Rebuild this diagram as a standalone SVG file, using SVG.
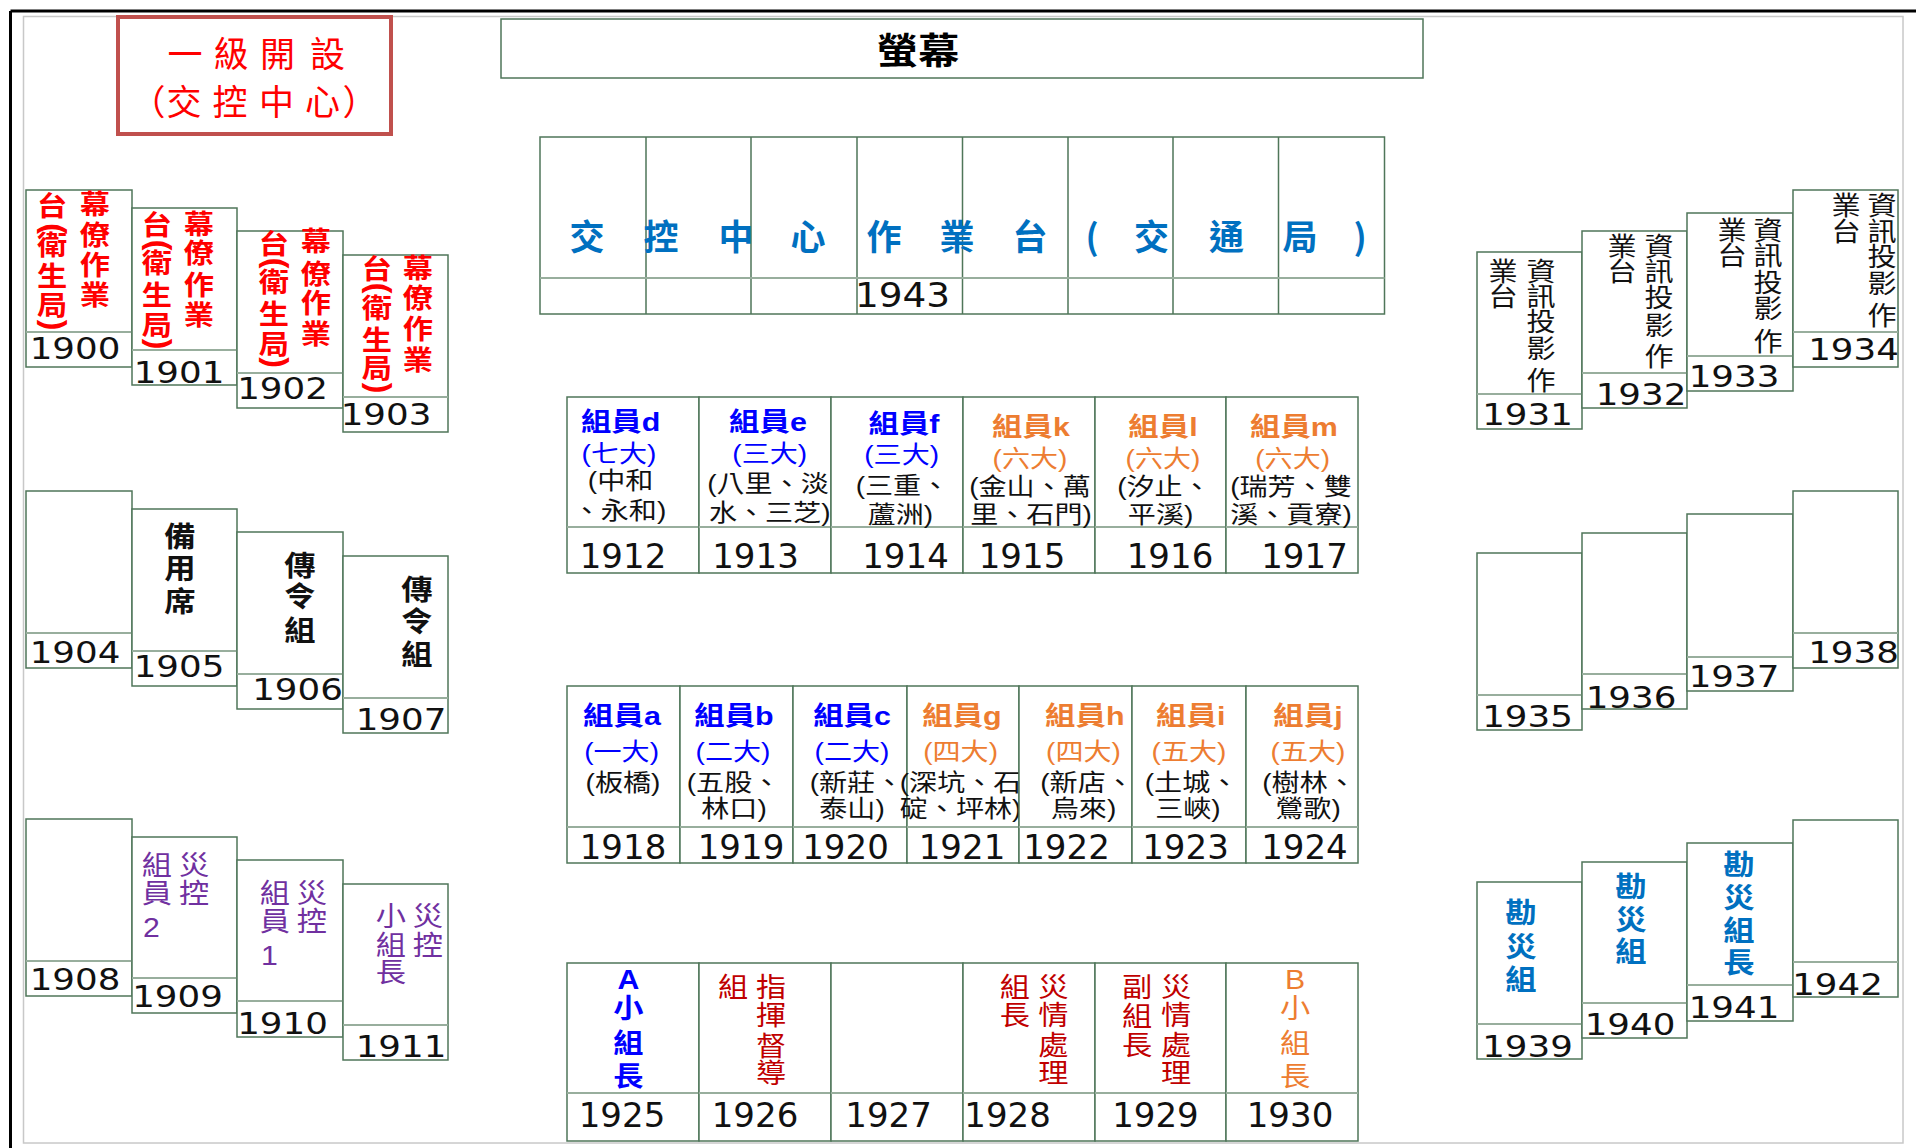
<svg xmlns="http://www.w3.org/2000/svg" width="1926" height="1148" viewBox="0 0 1926 1148">
<style>
.bx{fill:#fff;stroke:#4F7659;stroke-width:1.5}
.dv{stroke:#98AE9D;stroke-width:2;fill:none}
.gl{stroke:#4F7659;stroke-width:1.5;fill:none}
.sn{font-family:"DejaVu Sans",sans-serif;font-size:31px;fill:#111;text-anchor:middle;transform-box:fill-box;transform-origin:center;transform:scaleX(1.15)}
.tn{font-family:"DejaVu Sans",sans-serif;font-size:34px;fill:#111;text-anchor:middle}
.t{font-family:"Liberation Sans","Noto Sans CJK TC",sans-serif;text-anchor:middle;font-size:24px;transform-box:fill-box;transform-origin:center;transform:scaleX(1.17)}
.h{font-size:26px;font-weight:bold}
.v{font-family:"Liberation Sans","Noto Sans CJK TC",sans-serif;text-anchor:middle;font-size:27px;transform-box:fill-box;transform-origin:center;transform:scaleX(1.12)}
.v28{font-size:28px}
.v26{font-size:26px}
.p{font-family:"Liberation Sans",sans-serif;text-anchor:middle;font-size:32px}
.b{font-weight:bold}
.red{fill:#FF0000}.blu{fill:#0000FF}.org{fill:#ED7D31}.blk{fill:#111}.pur{fill:#7030A0}.dr{fill:#C00000}.sb{fill:#0070C0}
.hd{font-family:"Noto Sans CJK TC",sans-serif;text-anchor:middle}
</style>
<rect width="1926" height="1148" fill="#fff"/>
<g id="frame">
<rect x="23.5" y="16.5" width="1879.5" height="1126.5" fill="none" stroke="#C8C8C8" stroke-width="1.5"/>
<line x1="10.5" y1="11" x2="1916" y2="11" stroke="#000" stroke-width="3"/>
<line x1="10.5" y1="11" x2="10.5" y2="1148" stroke="#000" stroke-width="3"/>
</g>
<g id="title">
<rect x="118" y="17" width="273" height="117" fill="#fff" stroke="#C0504D" stroke-width="4"/>
<text class="hd red" font-size="35" x="185 231 277.5 327.5" y="67 67 67 67">一級開設</text>
<text class="hd red" font-size="35" x="148 184 230 276.5 322.5 360" y="115 115 115 115 115 115">（交控中心）</text>
</g>
<g id="screen">
<rect class="bx" x="501" y="19" width="922" height="59"/>
<text class="hd b" font-size="36" x="918" y="64" style="transform-box:fill-box;transform-origin:center;transform:scaleX(1.15)">螢幕</text>
</g>
<g id="n1943">
<rect class="bx" x="540" y="137" width="844.5" height="177"/>
<path class="gl" d="M646 137V314M751 137V314M857 137V314M962.5 137V314M1068 137V314M1173 137V314M1278.5 137V314"/>
<line class="dv" x1="540" y1="278" x2="1384.5" y2="278"/>
<text class="hd b sb" font-size="35" x="587 661 736 808 884 957 1030 1092 1151.5 1226.5 1300 1360" y="250 250 250 250 250 250 250 250 250 250 250 250">交控中心作業台(交通局)</text>
<text class="tn" font-size="33" x="902.5" y="307" style="transform-box:fill-box;transform-origin:center;transform:scaleX(1.1)">1943</text>
</g>
<g id="n1900">
<rect class="bx" x="26" y="190" width="106" height="177"/><line class="dv" x1="26" y1="332" x2="132" y2="332"/>
<text class="v b red" x="95 95 95 95" y="214.5 245.5 275 305.5">幕僚作業</text>
<text class="v b red" x="52" y="216.5">台</text>
<text class="p b red" x="52" y="236.8" transform="rotate(90 52 228.5)">(</text>
<text class="v b red" x="52 52 52" y="255 286 315.5">衛生局</text>
<text class="p b red" x="52" y="333.3" transform="rotate(90 52 325)">)</text>
<text class="sn" x="75" y="359">1900</text>
</g>
<g id="n1901">
<rect class="bx" x="132" y="208" width="105" height="177"/><line class="dv" x1="132" y1="350" x2="237" y2="350"/>
<text class="v b red" x="199 199 199 199" y="234.5 263.5 295 325.5">幕僚作業</text>
<text class="v b red" x="157" y="235">台</text>
<text class="p b red" x="157" y="253.3" transform="rotate(90 157 245)">(</text>
<text class="v b red" x="157 157 157" y="273.5 305.5 335.5">衛生局</text>
<text class="p b red" x="157" y="352.3" transform="rotate(90 157 344)">)</text>
<text class="sn" x="179" y="383">1901</text>
</g>
<g id="n1902">
<rect class="bx" x="237" y="231" width="106" height="177"/><line class="dv" x1="237" y1="373" x2="343" y2="373"/>
<text class="v b red" x="316 316 316 316" y="251.5 284.5 313.5 344.5">幕僚作業</text>
<text class="v b red" x="274" y="254">台</text>
<text class="p b red" x="274" y="271.3" transform="rotate(90 274 263)">(</text>
<text class="v b red" x="274 274 274" y="292.5 324.5 354.5">衛生局</text>
<text class="p b red" x="274" y="370.8" transform="rotate(90 274 362.5)">)</text>
<text class="sn" x="282.5" y="399">1902</text>
</g>
<g id="n1903">
<rect class="bx" x="343" y="255" width="105" height="177"/><line class="dv" x1="343" y1="397" x2="448" y2="397"/>
<text class="v b red" x="418 418 418 418" y="278.5 308.5 339.5 370">幕僚作業</text>
<text class="v b red" x="377" y="279">台</text>
<text class="p b red" x="377" y="296.3" transform="rotate(90 377 288)">(</text>
<text class="v b red" x="377 377 377" y="318.5 350 378.5">衛生局</text>
<text class="p b red" x="377" y="396.3" transform="rotate(90 377 388)">)</text>
<text class="sn" x="386" y="425">1903</text>
</g>
<g id="n1904">
<rect class="bx" x="26" y="491" width="106" height="177"/><line class="dv" x1="26" y1="633" x2="132" y2="633"/>
<text class="sn" x="75" y="663">1904</text>
</g>
<g id="n1905">
<rect class="bx" x="132" y="509" width="105" height="177"/><line class="dv" x1="132" y1="651" x2="237" y2="651"/>
<text class="v v28 b blk" x="180 180 180" y="547 579.5 612.5">備用席</text>
<text class="sn" x="179" y="677">1905</text>
</g>
<g id="n1906">
<rect class="bx" x="237" y="532" width="106" height="177"/><line class="dv" x1="237" y1="674" x2="343" y2="674"/>
<text class="v v28 b blk" x="300 300 300" y="576 607.5 641">傳令組</text>
<text class="sn" x="297.5" y="700">1906</text>
</g>
<g id="n1907">
<rect class="bx" x="343" y="556" width="105" height="177"/><line class="dv" x1="343" y1="698" x2="448" y2="698"/>
<text class="v v28 b blk" x="417 417 417" y="600 632 665">傳令組</text>
<text class="sn" x="401" y="730">1907</text>
</g>
<g id="n1908">
<rect class="bx" x="26" y="819" width="106" height="177"/><line class="dv" x1="26" y1="961" x2="132" y2="961"/>
<text class="sn" x="75" y="990">1908</text>
</g>
<g id="n1909">
<rect class="bx" x="132" y="837" width="105" height="176"/><line class="dv" x1="132" y1="978" x2="237" y2="978"/>
<text class="v pur" x="194 194" y="875 903.5">災控</text>
<text class="v pur" x="157 157 152" y="875.5 903.5 936.7">組員2</text>
<text class="sn" x="177.5" y="1007">1909</text>
</g>
<g id="n1910">
<rect class="bx" x="237" y="860" width="106" height="177"/><line class="dv" x1="237" y1="1001" x2="343" y2="1001"/>
<text class="v pur" x="312 312" y="903.5 931.5">災控</text>
<text class="v pur" x="275 275 270" y="903.5 931.5 964.7">組員1</text>
<text class="sn" x="282.5" y="1034">1910</text>
</g>
<g id="n1911">
<rect class="bx" x="343" y="884" width="105" height="176"/><line class="dv" x1="343" y1="1025" x2="448" y2="1025"/>
<text class="v pur" x="428 428" y="926.5 955">災控</text>
<text class="v pur" x="391 391 391" y="926.5 955 982.5">小組長</text>
<text class="sn" x="401" y="1057">1911</text>
</g>
<g id="n1912">
<rect class="bx" x="567" y="397" width="132" height="176"/><line class="dv" x1="567" y1="527" x2="699" y2="527"/>
<text class="t h blu" x="620.6" y="431">組員d</text>
<text class="t blu" x="619" y="462">(七大)</text>
<text class="t blk" x="620.6" y="489">(中和</text>
<text class="t blk" x="619.5" y="519">、永和)</text>
<text class="tn" x="623" y="568">1912</text>
</g>
<g id="n1913">
<rect class="bx" x="699" y="397" width="132" height="176"/><line class="dv" x1="699" y1="527" x2="831" y2="527"/>
<text class="t h blu" x="768" y="431">組員e</text>
<text class="t blu" x="769.7" y="462">(三大)</text>
<text class="t blk" x="768" y="492">(八里、淡</text>
<text class="t blk" x="769.7" y="521">水、三芝)</text>
<text class="tn" x="755.5" y="568">1913</text>
</g>
<g id="n1914">
<rect class="bx" x="831" y="397" width="132" height="176"/><line class="dv" x1="831" y1="527" x2="963" y2="527"/>
<text class="t h blu" x="904" y="433.5">組員f</text>
<text class="t blu" x="901.7" y="463.5">(三大)</text>
<text class="t blk" x="902.5" y="494">(三重、</text>
<text class="t blk" x="900.4" y="523">蘆洲)</text>
<text class="tn" x="905.5" y="568">1914</text>
</g>
<g id="n1915">
<rect class="bx" x="963" y="397" width="132" height="176"/><line class="dv" x1="963" y1="527" x2="1095" y2="527"/>
<text class="t h org" x="1031" y="436">組員k</text>
<text class="t org" x="1030" y="467">(六大)</text>
<text class="t blk" x="1030" y="495">(金山、萬</text>
<text class="t blk" x="1031" y="523.5">里、石門)</text>
<text class="tn" x="1022" y="568">1915</text>
</g>
<g id="n1916">
<rect class="bx" x="1095" y="397" width="131" height="176"/><line class="dv" x1="1095" y1="527" x2="1226" y2="527"/>
<text class="t h org" x="1163" y="436">組員l</text>
<text class="t org" x="1163" y="467">(六大)</text>
<text class="t blk" x="1164" y="495">(汐止、</text>
<text class="t blk" x="1160.6" y="523.5">平溪)</text>
<text class="tn" x="1170" y="568">1916</text>
</g>
<g id="n1917">
<rect class="bx" x="1226" y="397" width="132" height="176"/><line class="dv" x1="1226" y1="527" x2="1358" y2="527"/>
<text class="t h org" x="1294" y="436">組員m</text>
<text class="t org" x="1292.7" y="467">(六大)</text>
<text class="t blk" x="1291" y="495">(瑞芳、雙</text>
<text class="t blk" x="1291" y="523.5">溪、貢寮)</text>
<text class="tn" x="1304.5" y="568">1917</text>
</g>
<g id="n1918">
<rect class="bx" x="567" y="686" width="113" height="177"/><line class="dv" x1="567" y1="827" x2="680" y2="827"/>
<text class="t h blu" x="622" y="725.5">組員a</text>
<text class="t blu" x="621.6" y="760">(一大)</text>
<text class="t blk" x="623" y="791.5">(板橋)</text>
<text class="tn" x="623" y="859">1918</text>
</g>
<g id="n1919">
<rect class="bx" x="680" y="686" width="113" height="177"/><line class="dv" x1="680" y1="827" x2="793" y2="827"/>
<text class="t h blu" x="734" y="725.5">組員b</text>
<text class="t blu" x="733" y="760">(二大)</text>
<text class="t blk" x="733.5" y="791.5">(五股、</text>
<text class="t blk" x="734" y="817">林口)</text>
<text class="tn" x="741" y="859">1919</text>
</g>
<g id="n1920">
<rect class="bx" x="793" y="686" width="114" height="177"/><line class="dv" x1="793" y1="827" x2="907" y2="827"/>
<text class="t h blu" x="852" y="725.5">組員c</text>
<text class="t blu" x="852" y="760">(二大)</text>
<text class="t blk" x="856.5" y="791.5">(新莊、</text>
<text class="t blk" x="852" y="817">泰山)</text>
<text class="tn" x="845.5" y="859">1920</text>
</g>
<g id="n1921">
<rect class="bx" x="907" y="686" width="112" height="177"/><line class="dv" x1="907" y1="827" x2="1019" y2="827"/>
<text class="t h org" x="962" y="725.5">組員g</text>
<text class="t org" x="960.6" y="760">(四大)</text>
<text class="t blk" x="960.6" y="791.5">(深坑、石</text>
<text class="t blk" x="960.6" y="817">碇、坪林)</text>
<text class="tn" x="962" y="859">1921</text>
</g>
<g id="n1922">
<rect class="bx" x="1019" y="686" width="113" height="177"/><line class="dv" x1="1019" y1="827" x2="1132" y2="827"/>
<text class="t h org" x="1084.8" y="725.5">組員h</text>
<text class="t org" x="1083.5" y="760">(四大)</text>
<text class="t blk" x="1087" y="791.5">(新店、</text>
<text class="t blk" x="1083.5" y="817">烏來)</text>
<text class="tn" x="1066.5" y="859">1922</text>
</g>
<g id="n1923">
<rect class="bx" x="1132" y="686" width="114" height="177"/><line class="dv" x1="1132" y1="827" x2="1246" y2="827"/>
<text class="t h org" x="1190.7" y="725.5">組員i</text>
<text class="t org" x="1189" y="760">(五大)</text>
<text class="t blk" x="1191.5" y="791.5">(土城、</text>
<text class="t blk" x="1188" y="817">三峽)</text>
<text class="tn" x="1185.5" y="859">1923</text>
</g>
<g id="n1924">
<rect class="bx" x="1246" y="686" width="112" height="177"/><line class="dv" x1="1246" y1="827" x2="1358" y2="827"/>
<text class="t h org" x="1308" y="725.5">組員j</text>
<text class="t org" x="1308" y="760">(五大)</text>
<text class="t blk" x="1309" y="791.5">(樹林、</text>
<text class="t blk" x="1308" y="817">鶯歌)</text>
<text class="tn" x="1304.4" y="859">1924</text>
</g>
<g id="n1925">
<rect class="bx" x="567" y="963" width="132" height="178"/><line class="dv" x1="567" y1="1093" x2="699" y2="1093"/>
<text class="v b blu" x="628.5 628.5 628.5 628.5" y="988.7 1018.5 1053.5 1086.5">A小組長</text>
<text class="tn" x="622" y="1127">1925</text>
</g>
<g id="n1926">
<rect class="bx" x="699" y="963" width="132" height="178"/><line class="dv" x1="699" y1="1093" x2="831" y2="1093"/>
<text class="v dr" x="771 771 771 771" y="997.5 1025 1056 1083.5">指揮督導</text>
<text class="v dr" x="733" y="997.5">組</text>
<text class="tn" x="755" y="1127">1926</text>
</g>
<g id="n1927">
<rect class="bx" x="831" y="963" width="132" height="178"/><line class="dv" x1="831" y1="1093" x2="963" y2="1093"/>
<text class="tn" x="888.6" y="1127">1927</text>
</g>
<g id="n1928">
<rect class="bx" x="963" y="963" width="132" height="178"/><line class="dv" x1="963" y1="1093" x2="1095" y2="1093"/>
<text class="v dr" x="1053.5 1053.5 1053.5 1053.5" y="997.5 1025.5 1055 1083.5">災情處理</text>
<text class="v dr" x="1015 1015" y="997.5 1025.5">組長</text>
<text class="tn" x="1007.6" y="1127">1928</text>
</g>
<g id="n1929">
<rect class="bx" x="1095" y="963" width="131" height="178"/><line class="dv" x1="1095" y1="1093" x2="1226" y2="1093"/>
<text class="v dr" x="1176 1176 1176 1176" y="997.5 1025.5 1055 1083.5">災情處理</text>
<text class="v dr" x="1137 1137 1137" y="997.5 1026.5 1055">副組長</text>
<text class="tn" x="1155.4" y="1127">1929</text>
</g>
<g id="n1930">
<rect class="bx" x="1226" y="963" width="132" height="178"/><line class="dv" x1="1226" y1="1093" x2="1358" y2="1093"/>
<text class="v org" x="1295 1295 1295 1295" y="988.7 1018.5 1053.5 1086.5">B小組長</text>
<text class="tn" x="1290" y="1127">1930</text>
</g>
<g id="n1931">
<rect class="bx" x="1477" y="252" width="105" height="177"/><line class="dv" x1="1477" y1="394" x2="1582" y2="394"/>
<text class="v v26 blk" x="1541 1541 1541 1541 1541" y="281 306.5 331 358.5 390">資訊投影作</text>
<text class="v v26 blk" x="1503 1503" y="281 306.5">業台</text>
<text class="sn" x="1527.5" y="425">1931</text>
</g>
<g id="n1932">
<rect class="bx" x="1582" y="231" width="105" height="177"/><line class="dv" x1="1582" y1="373" x2="1687" y2="373"/>
<text class="v v26 blk" x="1659 1659 1659 1659 1659" y="256.5 281.5 307.5 335 366.5">資訊投影作</text>
<text class="v v26 blk" x="1622 1622" y="256.5 281.5">業台</text>
<text class="sn" x="1641" y="405">1932</text>
</g>
<g id="n1933">
<rect class="bx" x="1687" y="213" width="106" height="178"/><line class="dv" x1="1687" y1="356" x2="1793" y2="356"/>
<text class="v v26 blk" x="1768 1768 1768 1768 1768" y="240 265.5 292.5 318.5 351.5">資訊投影作</text>
<text class="v v26 blk" x="1732 1732" y="240 265.5">業台</text>
<text class="sn" x="1734" y="387">1933</text>
</g>
<g id="n1934">
<rect class="bx" x="1793" y="190" width="105" height="177"/><line class="dv" x1="1793" y1="332" x2="1898" y2="332"/>
<text class="v v26 blk" x="1882 1882 1882 1882 1882" y="215 241.5 266.5 293.5 325">資訊投影作</text>
<text class="v v26 blk" x="1846 1846" y="215 241.5">業台</text>
<text class="sn" x="1853.5" y="360">1934</text>
</g>
<g id="n1935">
<rect class="bx" x="1477" y="553" width="105" height="177"/><line class="dv" x1="1477" y1="695" x2="1582" y2="695"/>
<text class="sn" x="1527.5" y="727">1935</text>
</g>
<g id="n1936">
<rect class="bx" x="1582" y="533" width="105" height="176"/><line class="dv" x1="1582" y1="674" x2="1687" y2="674"/>
<text class="sn" x="1631" y="708">1936</text>
</g>
<g id="n1937">
<rect class="bx" x="1687" y="514" width="106" height="177"/><line class="dv" x1="1687" y1="657" x2="1793" y2="657"/>
<text class="sn" x="1734" y="687">1937</text>
</g>
<g id="n1938">
<rect class="bx" x="1793" y="491" width="105" height="177"/><line class="dv" x1="1793" y1="633" x2="1898" y2="633"/>
<text class="sn" x="1853.5" y="663">1938</text>
</g>
<g id="n1939">
<rect class="bx" x="1477" y="882" width="105" height="177"/><line class="dv" x1="1477" y1="1024" x2="1582" y2="1024"/>
<text class="v v28 b sb" x="1521 1521 1521" y="923.5 957 990">勘災組</text>
<text class="sn" x="1527.5" y="1057">1939</text>
</g>
<g id="n1940">
<rect class="bx" x="1582" y="862" width="105" height="176"/><line class="dv" x1="1582" y1="1003" x2="1687" y2="1003"/>
<text class="v v28 b sb" x="1631 1631 1631" y="897.5 930 962.5">勘災組</text>
<text class="sn" x="1630" y="1035">1940</text>
</g>
<g id="n1941">
<rect class="bx" x="1687" y="843" width="106" height="178"/><line class="dv" x1="1687" y1="985" x2="1793" y2="985"/>
<text class="v v28 b sb" x="1739 1739 1739 1739" y="875 908.5 941 973.5">勘災組長</text>
<text class="sn" x="1734" y="1018">1941</text>
</g>
<g id="n1942">
<rect class="bx" x="1793" y="820" width="105" height="177"/><line class="dv" x1="1793" y1="962" x2="1898" y2="962"/>
<text class="sn" x="1837.5" y="995">1942</text>
</g>
<g id="connectors"></g>
</svg>
